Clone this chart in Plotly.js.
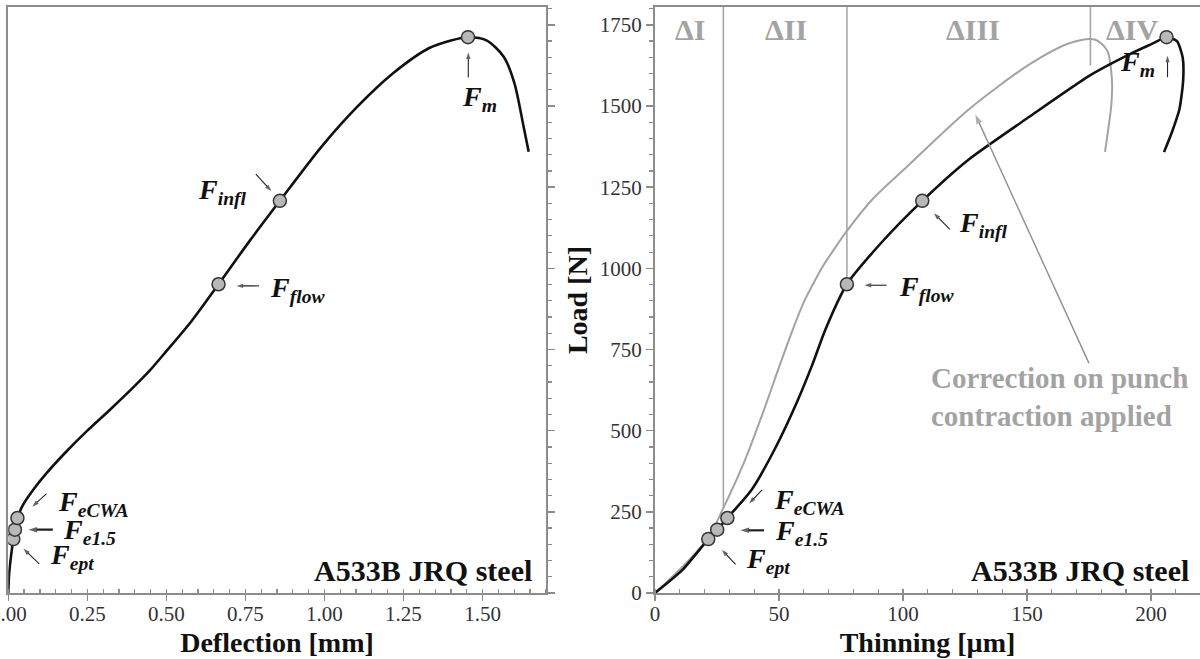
<!DOCTYPE html>
<html>
<head>
<meta charset="utf-8">
<script src="https://cdn.plot.ly/plotly-3.0.1.min.js"></script>
<style>html,body{margin:0;padding:0;background:#fff;}#chart{width:1200px;height:659px;}</style>
</head>
<body>
<div id="chart"></div>
<script>
// ---- Data ----
// Left panel: load vs deflection
const deflectionMm = [0, 0.003, 0.016, 0.021, 0.029, 0.047, 0.079, 0.121, 0.180, 0.250, 0.320, 0.400, 0.450, 0.500, 0.580, 0.665, 0.760, 0.859, 0.991, 1.104, 1.217, 1.330, 1.400, 1.454, 1.511, 1.567, 1.601, 1.630, 1.646];
const deflectionLoad = [0, 63, 166, 195, 231, 272, 318, 369, 432, 500, 563, 638, 688, 745, 838, 951, 1080, 1208, 1375, 1498, 1601, 1678, 1702, 1712, 1703, 1652, 1570, 1436, 1359];

// Right panel: load vs thinning (measured)
const thinningUm = [0, 11.2, 21.5, 25.1, 29.2, 39.0, 48.9, 57.1, 63.7, 68.7, 77.4, 92.0, 107.8, 126.3, 151.0, 175.6, 192.1, 200.0, 206.3, 210.5, 212.8, 213.0, 211.5, 208.5, 205.3];
const thinningLoad = [0, 72, 166, 195, 231, 318, 452, 585, 708, 811, 951, 1085, 1208, 1334, 1467, 1595, 1662, 1690, 1712, 1700, 1650, 1578, 1490, 1420, 1358];

// Right panel: load vs thinning (correction on punch contraction applied)
const correctedThinningUm = [0, 11.0, 21.5, 27.6, 35.8, 44.0, 50.0, 55.0, 60.0, 64.0, 68.0, 72.0, 76.9, 88.0, 101.6, 126.3, 151.0, 167.4, 177.3, 182.3, 184.3, 184.0, 183.0, 181.5];
const correctedLoad = [0, 80, 170, 262, 400, 565, 695, 800, 895, 955, 1010, 1056, 1110, 1215, 1313, 1488, 1628, 1694, 1705, 1672, 1578, 1500, 1440, 1359];

// Characteristic points
const keyNames = ['ept', 'e1.5', 'eCWA', 'flow', 'infl', 'm'];
const keyDeflection = [0.016, 0.021, 0.029, 0.665, 0.859, 1.454];
const keyThinning = [21.5, 25.1, 29.2, 77.4, 107.8, 206.3];
const keyLoad = [166, 195, 231, 951, 1208, 1712];

// Stage boundaries and labels (right panel)
const stageBoundUm = [27.6, 77.4, 175.6];
const stageBoundLoadFrom = [262, 951, 1625];
const stageLabels = ['ΔI', 'ΔII', 'ΔIII', 'ΔIV'];
const stageLabelUm = [14.1, 53.0, 128.4, 192.3];

// Axis tick values
const deflectionTicks = [0, 0.25, 0.5, 0.75, 1.0, 1.25, 1.5];
const thinningTicks = [0, 50, 100, 150, 200];
const loadTicks = [0, 250, 500, 750, 1000, 1250, 1500, 1750];

// ---- Styling ----
const SERIF = 'Liberation Serif, Times New Roman, serif';
const AXIS_GRAY = '#8c8c8c';
const CURVE_GRAY = '#a3a3a3';
const yMax = 1805;

const traces = [];
traces.push({x: deflectionMm, y: deflectionLoad, xaxis: 'x', yaxis: 'y', mode: 'lines',
  line: {color: '#111', width: 2.6, shape: 'spline', smoothing: 0.8}, hoverinfo: 'skip'});
traces.push({x: keyDeflection, y: keyLoad, xaxis: 'x', yaxis: 'y', mode: 'markers', text: keyNames,
  marker: {size: 13, color: '#b8b8b8', line: {color: '#333', width: 1.5}}});

// stage boundary lines
stageBoundUm.forEach((u, i) => {
  traces.push({x: [u, u], y: [stageBoundLoadFrom[i], yMax], xaxis: 'x2', yaxis: 'y2', mode: 'lines',
    line: {color: CURVE_GRAY, width: 1.5}, hoverinfo: 'skip'});
});
traces.push({x: correctedThinningUm, y: correctedLoad, xaxis: 'x2', yaxis: 'y2', mode: 'lines',
  line: {color: CURVE_GRAY, width: 2, shape: 'spline', smoothing: 0.8}, hoverinfo: 'skip'});
traces.push({x: thinningUm, y: thinningLoad, xaxis: 'x2', yaxis: 'y2', mode: 'lines',
  line: {color: '#111', width: 2.6, shape: 'spline', smoothing: 0.6}, hoverinfo: 'skip'});
traces.push({x: keyThinning, y: keyLoad, xaxis: 'x2', yaxis: 'y2', mode: 'markers', text: keyNames,
  marker: {size: 13, color: '#b8b8b8', line: {color: '#333', width: 1.5}}});

// ---- Annotations and pointer arrows ----
const ann = [];
function fLabel(xref, yref, x, y, sub) {
  ann.push({xref, yref, x, y, text: '<b><i>F<sub>' + sub + '</sub></i></b>', showarrow: false,
    xanchor: 'center', yanchor: 'middle', font: {family: SERIF, size: 28, color: '#111'}});
}
function arrow(xa, ya, hx, hy, tx, ty, w, color, size) {
  traces.push({x: [tx, hx], y: [ty, hy], xaxis: xa, yaxis: ya, mode: 'lines+markers', hoverinfo: 'skip',
    line: {color: color || '#222', width: w || 1.1},
    marker: {symbol: ['circle', 'arrow'], size: [0, size || 7], angleref: 'previous', color: color || '#222',
      line: {width: 0}}});
}
// left panel labels
fLabel('x', 'y', 1.49, 1523, 'm');          arrow('x', 'y', 1.455, 1665, 1.455, 1588);
fLabel('x', 'y', 0.676, 1237, 'infl');      arrow('x', 'y', 0.832, 1238, 0.783, 1290);
fLabel('x', 'y', 0.914, 936, 'flow');       arrow('x', 'y', 0.722, 946, 0.793, 946);
fLabel('x', 'y', 0.268, 277, 'eCWA');       arrow('x', 'y', 0.076, 266, 0.121, 306);
fLabel('x', 'y', 0.258, 189, 'e1.5');       arrow('x', 'y', 0.064, 195, 0.141, 195, 2.2, '#222', 9);
fLabel('x', 'y', 0.202, 113, 'ept');        arrow('x', 'y', 0.048, 136, 0.098, 90);
// right panel labels
fLabel('x2', 'y2', 194.7, 1632, 'm');       arrow('x2', 'y2', 206.7, 1655, 206.7, 1589);
fLabel('x2', 'y2', 132.5, 1136, 'infl');    arrow('x2', 'y2', 112.5, 1170, 118.9, 1120);
fLabel('x2', 'y2', 109.4, 939, 'flow');     arrow('x2', 'y2', 84.5, 948, 93.4, 948);
fLabel('x2', 'y2', 62.5, 283, 'eCWA');      arrow('x2', 'y2', 38.0, 276, 43.2, 318);
fLabel('x2', 'y2', 59.0, 186, 'e1.5');      arrow('x2', 'y2', 34.5, 193, 44.0, 193, 2.2, '#222', 9);
fLabel('x2', 'y2', 45.6, 99, 'ept');        arrow('x2', 'y2', 27.0, 133, 32.5, 88);

// stage labels
stageLabels.forEach((s, i) => {
  ann.push({xref: 'x2', yref: 'y2', x: stageLabelUm[i], y: 1735, text: '<b>' + s + '</b>', showarrow: false,
    xanchor: 'center', yanchor: 'middle', font: {family: SERIF, size: 30, color: CURVE_GRAY}});
});
// correction note
ann.push({xref: 'x2', yref: 'y2', x: 110.7, y: 604, text: '<b>Correction on punch<br>contraction applied</b>',
  showarrow: false, xanchor: 'left', yanchor: 'middle', align: 'left',
  font: {family: SERIF, size: 29, color: CURVE_GRAY}});
arrow('x2', 'y2', 129.2, 1474, 175.0, 708, 1.4, '#8f8f8f', 10);
// material labels
ann.push({xref: 'x', yref: 'y', x: 1.664, y: 69, text: '<b>A533B JRQ steel</b>', showarrow: false,
  xanchor: 'right', yanchor: 'middle', font: {family: SERIF, size: 30, color: '#111'}});
ann.push({xref: 'x2', yref: 'y2', x: 216.1, y: 69, text: '<b>A533B JRQ steel</b>', showarrow: false,
  xanchor: 'right', yanchor: 'middle', font: {family: SERIF, size: 30, color: '#111'}});

const tickFont = {family: SERIF, size: 21, color: '#333'};
const titleFont = {family: SERIF, size: 28, color: '#111', weight: 'bold'};

const layout = {
  width: 1200, height: 659,
  margin: {l: 0, r: 0, t: 7, b: 66, pad: 0},
  paper_bgcolor: '#fff', plot_bgcolor: '#fff',
  showlegend: false,
  hovermode: false,
  xaxis: {domain: [0.0069, 0.4548], anchor: 'y', range: [0, 1.70], tickvals: deflectionTicks, tickformat: '.2f',
    ticklabeloverflow: 'allow', ticklabelstandoff: -5,
    showgrid: false, zeroline: false, showline: true, linecolor: AXIS_GRAY, linewidth: 2, mirror: true,
    ticks: 'outside', ticklen: 6, tickcolor: AXIS_GRAY, tickwidth: 1.5,
    minor: {dtick: 0.05, ticks: 'inside', ticklen: 4, tickcolor: AXIS_GRAY, tickwidth: 1.2, showgrid: false},
    tickfont: tickFont, title: {text: 'Deflection [mm]', font: titleFont, standoff: 7}},
  yaxis: {domain: [0, 1], anchor: 'x', side: 'right', range: [0, yMax], tickvals: loadTicks, showticklabels: false,
    showgrid: false, zeroline: false, showline: true, linecolor: AXIS_GRAY, linewidth: 2, mirror: true,
    ticks: 'outside', ticklen: 7, tickcolor: AXIS_GRAY, tickwidth: 1.5,
    minor: {dtick: 50, ticks: 'outside', ticklen: 4, tickcolor: AXIS_GRAY, tickwidth: 1.2, showgrid: false}},
  xaxis2: {domain: [0.5458, 1], anchor: 'y2', range: [0, 219.8], tickvals: thinningTicks,
    ticklabeloverflow: 'allow', ticklabelstandoff: -5,
    showgrid: false, zeroline: false, showline: true, linecolor: AXIS_GRAY, linewidth: 2, mirror: true,
    ticks: 'outside', ticklen: 6, tickcolor: AXIS_GRAY, tickwidth: 1.5,
    minor: {dtick: 10, ticks: 'inside', ticklen: 4, tickcolor: AXIS_GRAY, tickwidth: 1.2, showgrid: false},
    tickfont: tickFont, title: {text: 'Thinning [µm]', font: titleFont, standoff: 7}},
  yaxis2: {domain: [0, 1], anchor: 'x2', side: 'left', range: [0, yMax], tickvals: loadTicks,
    showgrid: false, zeroline: false, showline: true, linecolor: AXIS_GRAY, linewidth: 2,
    ticks: 'outside', ticklen: 7, tickcolor: AXIS_GRAY, tickwidth: 1.5,
    minor: {dtick: 50, ticks: 'outside', ticklen: 4, tickcolor: AXIS_GRAY, tickwidth: 1.2, showgrid: false},
    tickfont: tickFont, title: {text: 'Load [N]', font: titleFont, standoff: 4}},
  annotations: ann
};

Plotly.newPlot('chart', traces, layout, {staticPlot: true, displayModeBar: false});
</script>
</body>
</html>
